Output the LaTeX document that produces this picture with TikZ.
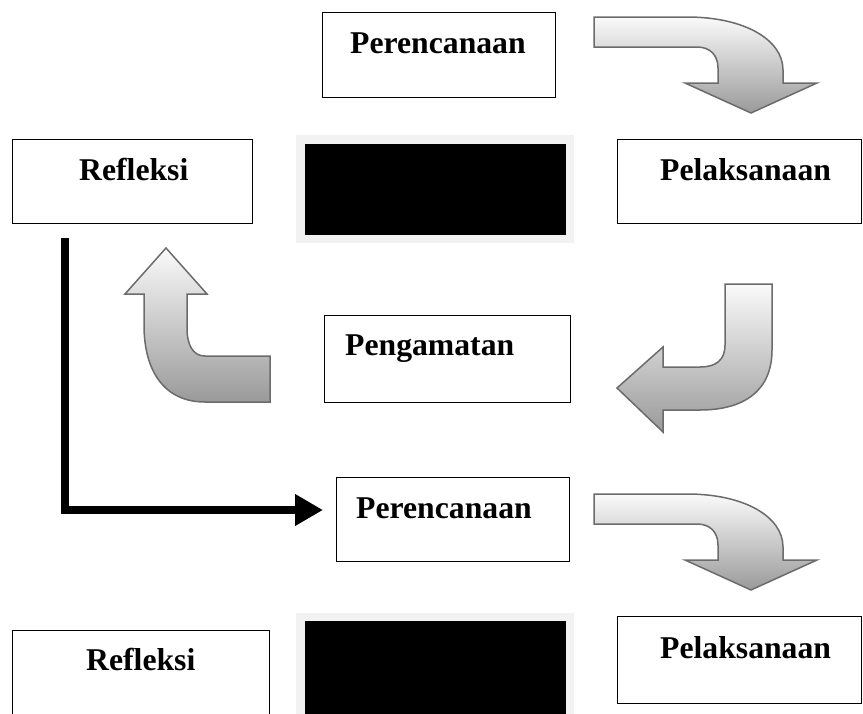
\documentclass[tikz,border=0pt]{standalone}
\usepackage{fontspec}
\setmainfont{Liberation Serif}
\usetikzlibrary{arrows.meta}
\definecolor{arrline}{HTML}{6B6B6B}
\definecolor{arrtop}{HTML}{FAFAFA}
\definecolor{arrbot}{HTML}{9A9A9A}
\definecolor{framegray}{HTML}{F2F2F2}
\tikzset{
  box/.style={draw=black, line width=1.3pt, fill=white, anchor=north west, inner sep=0pt},
  lbl/.style={anchor=base west, inner sep=0pt, font=\bfseries\fontsize{31.7}{38}\selectfont},
  blackframe/.style={fill=framegray, anchor=north west, inner sep=0pt},
  blackfill/.style={fill=black, draw=white!90!gray, line width=0.8pt, anchor=north west, inner sep=0pt},
  bentarrow/.style={draw=arrline, line width=1.5pt, top color=arrtop, bottom color=arrbot, line join=miter},
  bigarrow/.style={line width=8pt, line cap=butt, -{Triangle[length=28pt,width=30pt]}}
}
\begin{document}
\begin{tikzpicture}[x=1pt,y=-1pt]
\useasboundingbox (0,0) rectangle (863,713);
\clip (0,0) rectangle (863,713);

% boxes
\node[box, minimum width=233pt, minimum height=85pt] (plan1) at (322,12) {};
\node[box, minimum width=240pt, minimum height=84pt] (refl1) at (12,139) {};
\node[box, minimum width=244pt, minimum height=84pt] (act1) at (617,139) {};
\node[box, minimum width=246pt, minimum height=87pt] (obs) at (324,315) {};
\node[box, minimum width=233pt, minimum height=84pt] (plan2) at (336,477) {};
\node[box, minimum width=257pt, minimum height=100pt] (refl2) at (12,630) {};
\node[box, minimum width=244pt, minimum height=87pt] (act2) at (617,616) {};

% black boxes
\node[blackframe, minimum width=278pt, minimum height=108pt] (blk1f) at (296,135) {};
\node[blackfill, minimum width=262pt, minimum height=92pt] (blk1) at (304,143) {};
\node[blackframe, minimum width=278pt, minimum height=120pt] (blk2f) at (296,613) {};
\node[blackfill, minimum width=262pt, minimum height=110pt] (blk2) at (304,620) {};

% labels
\node[lbl] (plan1t) at (350,53) {Perencanaan};
\node[lbl] (refl1t) at (79,180) {Refleksi};
\node[lbl] (act1t) at (660,180) {Pelaksanaan};
\node[lbl] (obst) at (345,355) {Pengamatan};
\node[lbl] (plan2t) at (356,518) {Perencanaan};
\node[lbl] (refl2t) at (86,670) {Refleksi};
\node[lbl] (act2t) at (660,658) {Pelaksanaan};

% bent arrow top right
\path[bentarrow] (594,17) -- (687,17) .. controls (745,17) and (783,40) .. (783,70)
  -- (783,83) -- (817,83) -- (751,113) -- (685,83) -- (718,83) -- (718,68)
  .. controls (718,55) and (710,47) .. (697,47) -- (594,47) -- cycle;

% bent arrow second right
\begin{scope}[yshift=-477pt]
\path[bentarrow] (594,17) -- (687,17) .. controls (745,17) and (783,40) .. (783,70)
  -- (783,83) -- (817,83) -- (751,113) -- (685,83) -- (718,83) -- (718,68)
  .. controls (718,55) and (710,47) .. (697,47) -- (594,47) -- cycle;
\end{scope}

% up arrow left
\path[bentarrow] (166,248) -- (207,294) -- (187,294) -- (187,328)
  .. controls (187,345) and (193,356) .. (205,356) -- (270,356) -- (270,402) -- (205,402)
  .. controls (165,402) and (144,372) .. (144,325) -- (144,294) -- (125,294) -- cycle;

% left arrow right
\path[bentarrow] (725,284) -- (772,284) -- (772,350)
  .. controls (772,390) and (745,410) .. (700,410) -- (663,410) -- (663,432) -- (617,388)
  -- (663,347) -- (663,367) -- (700,367) .. controls (716,367) and (725,360) .. (725,345) -- cycle;

% black connector
\coordinate (bs) at (65,238);
\coordinate (be) at (323,510);
\draw[bigarrow] (bs) |- (be);
\end{tikzpicture}
\end{document}
